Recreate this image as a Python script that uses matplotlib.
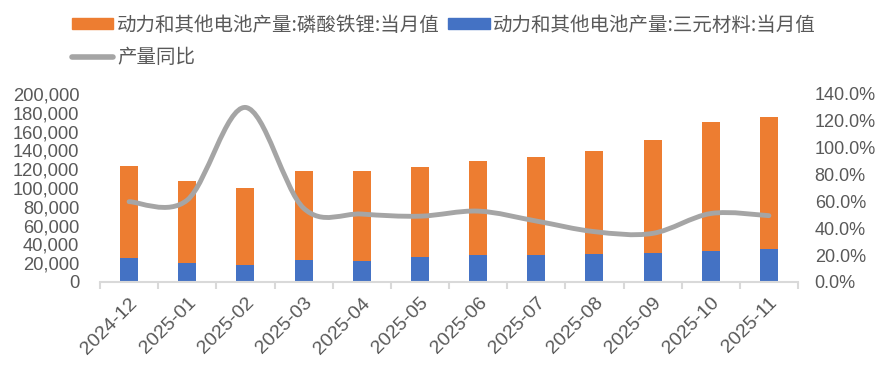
import numpy as np
import matplotlib
matplotlib.use("Agg")
import matplotlib.pyplot as plt
from matplotlib.path import Path
from matplotlib.patches import PathPatch
from matplotlib.lines import Line2D
from matplotlib.ticker import FuncFormatter

plt.rcParams['font.family'] = ['Liberation Sans', 'Noto Sans CJK SC', 'DejaVu Sans']

months = ['2024-12', '2025-01', '2025-02', '2025-03', '2025-04', '2025-05',
          '2025-06', '2025-07', '2025-08', '2025-09', '2025-10', '2025-11']
# 三元材料 (底部) 与 合计高度
ternary = [25500, 20200, 18100, 23400, 22300, 26600, 28700, 28700, 29800, 30900, 33000, 35100]
total = [123400, 107400, 100000, 118000, 118000, 122300, 128700, 133000, 139400, 151000, 170200, 175500]
lfp = [t - s for t, s in zip(total, ternary)]
yoy = [0.598, 0.61, 1.30, 0.55, 0.506, 0.49, 0.528, 0.454, 0.375, 0.362, 0.51, 0.494]

orange = '#ED7D31'
blue = '#4472C4'
gray = '#A5A5A5'
txt = '#595959'

fig = plt.figure(figsize=(8.8, 3.67), dpi=100)
ax = fig.add_axes([100 / 880, 1 - 282 / 367, 698 / 880, 188 / 367])
x = np.arange(len(months))
w = 0.31
ax.bar(x, ternary, w, color=blue, zorder=2)
ax.bar(x, lfp, w, bottom=ternary, color=orange, zorder=2)
ax.set_xlim(-0.5, len(months) - 0.5)
ax.set_ylim(0, 200000)
ax.set_yticks(np.arange(0, 200001, 20000))
ax.yaxis.set_major_formatter(FuncFormatter(lambda v, p: f'{int(v):,}'))

for s in ['top', 'right', 'left']:
    ax.spines[s].set_visible(False)
ax.spines['bottom'].set_color('#D9D9D9')
ax.spines['bottom'].set_linewidth(1.5)

ax.set_xticks(x)
ax.set_xticklabels(months, rotation=45, ha='right', rotation_mode='anchor')
ax.set_xticks(np.arange(-0.5, len(months), 1), minor=True)
ax.tick_params(axis='x', which='major', length=0, pad=9, labelsize=14, labelcolor=txt)
ax.tick_params(axis='x', which='minor', length=5, width=1.5, color='#D9D9D9', direction='out')
ax.tick_params(axis='y', length=0, labelsize=13.2, labelcolor=txt, pad=15)

ax2 = ax.twinx()
ax2.set_ylim(0, 1.4)
ax2.set_yticks(np.arange(0, 1.41, 0.2))
ax2.yaxis.set_major_formatter(FuncFormatter(lambda v, p: f'{v * 100:.1f}%'))
ax2.tick_params(axis='y', length=0, labelsize=13, labelcolor=txt, pad=12)
for s in ax2.spines.values():
    s.set_visible(False)

# 平滑曲线 (类似 Excel 的平滑线)
pts = np.column_stack([x, yoy])
verts = [tuple(pts[0])]
codes = [Path.MOVETO]
n = len(pts)
for i in range(n - 1):
    p0 = pts[i - 1] if i > 0 else pts[i]
    p1 = pts[i]
    p2 = pts[i + 1]
    p3 = pts[i + 2] if i + 2 < n else pts[i + 1]
    c1 = p1 + (p2 - p0) / 6
    c2 = p2 - (p3 - p1) / 6
    verts += [tuple(c1), tuple(c2), tuple(p2)]
    codes += [Path.CURVE4] * 3
ax2.add_patch(PathPatch(Path(verts, codes), fill=False, edgecolor=gray, lw=3.5,
                        capstyle='round', joinstyle='round', zorder=3))

handles = [plt.Rectangle((0, 0), 1, 1, color=orange),
           Line2D([], [], color=gray, lw=4, solid_capstyle='round'),
           plt.Rectangle((0, 0), 1, 1, color=blue)]
labels = ['动力和其他电池产量:磷酸铁锂:当月值', '产量同比', '动力和其他电池产量:三元材料:当月值']
leg = fig.legend(handles, labels, ncol=2, loc='upper left', bbox_to_anchor=(54 / 880, 1 + 3 / 367),
                 frameon=False, handlelength=2.15, handleheight=0.5, handletextpad=0.2,
                 columnspacing=0.4, labelspacing=0.6,
                 prop={'family': ['Noto Sans CJK SC', 'DejaVu Sans'], 'size': 14})
for t in leg.get_texts():
    t.set_color(txt)

fig.savefig('out.png', dpi=100)
